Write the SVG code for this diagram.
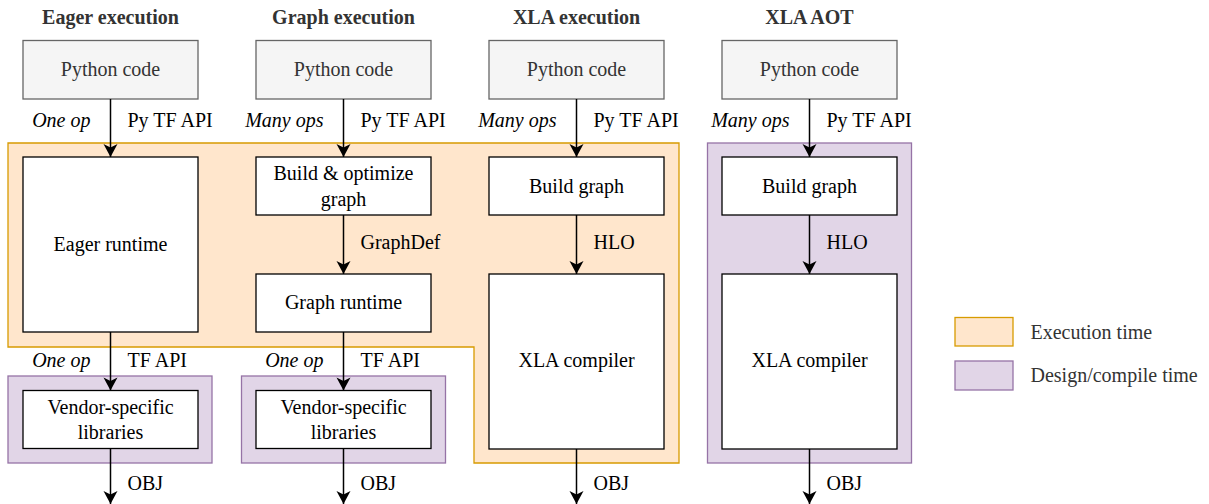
<svg xmlns="http://www.w3.org/2000/svg" width="1209" height="504" viewBox="0 0 1209 504" font-family="'Liberation Serif', 'DejaVu Serif', serif">
<style>
text{font-family:'Liberation Serif','Times New Roman','DejaVu Serif',serif;font-size:20px;fill:#000}
.t{font-weight:bold;fill:#333;text-anchor:middle}
.c{text-anchor:middle}
.g{fill:#333}
.i{font-style:italic;text-anchor:end}
.py{fill:#f5f5f5;stroke:#666;stroke-width:1.3}
.bx{fill:#fff;stroke:#000;stroke-width:1.3}
.ex{fill:#ffe6cc;stroke:#d79b00;stroke-width:1.3}
.ds{fill:#e1d5e7;stroke:#9673a6;stroke-width:1.3}
.ln{stroke:#000;stroke-width:1.5;fill:none;marker-end:url(#ah)}
</style>
<defs>
<marker id="ah" markerUnits="userSpaceOnUse" markerWidth="16" markerHeight="16" viewBox="-14 -8 16 16" refX="0" refY="0" orient="auto">
<path d="M0,0 L-13,-7 L-9.5,0 L-13,7 Z" fill="#000"/>
</marker>
</defs>
<g id="regions">
<path class="ex" d="M8,143 H679 V463 H474 V347 H8 Z"/>
<rect class="ds" x="707.5" y="143" width="204" height="320"/>
<rect class="ds" x="8" y="376" width="204" height="87"/>
<rect class="ds" x="241.5" y="376" width="204" height="87"/>
</g>
<g id="titles">
<text class="t" x="110.5" y="24">Eager execution</text>
<text class="t" x="343.5" y="24">Graph execution</text>
<text class="t" x="576.5" y="24">XLA execution</text>
<text class="t" x="809.5" y="24">XLA AOT</text>
</g>
<g id="py1"><rect class="py" x="23" y="40.5" width="175" height="58.5"/><text class="c g" x="110.5" y="76">Python code</text></g>
<g id="py2"><rect class="py" x="256" y="40.5" width="175" height="58.5"/><text class="c g" x="343.5" y="76">Python code</text></g>
<g id="py3"><rect class="py" x="489" y="40.5" width="175" height="58.5"/><text class="c g" x="576.5" y="76">Python code</text></g>
<g id="py4"><rect class="py" x="722" y="40.5" width="175" height="58.5"/><text class="c g" x="809.5" y="76">Python code</text></g>
<g id="eager-runtime"><rect class="bx" x="23" y="157" width="175" height="175"/><text class="c" x="110.5" y="251">Eager runtime</text></g>
<g id="build-opt"><rect class="bx" x="256" y="157" width="175" height="58"/><text class="c" x="343.5" y="180">Build &amp; optimize</text><text class="c" x="343.5" y="205.5">graph</text></g>
<g id="graph-runtime"><rect class="bx" x="256" y="274" width="175" height="58"/><text class="c" x="343.5" y="308.5">Graph runtime</text></g>
<g id="build-graph-1"><rect class="bx" x="489" y="157" width="175" height="58"/><text class="c" x="576.5" y="192.5">Build graph</text></g>
<g id="xla-compiler-1"><rect class="bx" x="489" y="274" width="175" height="175"/><text class="c" x="576.5" y="367">XLA compiler</text></g>
<g id="build-graph-2"><rect class="bx" x="722" y="157" width="175" height="58"/><text class="c" x="809.5" y="192.5">Build graph</text></g>
<g id="xla-compiler-2"><rect class="bx" x="722" y="274" width="175" height="175"/><text class="c" x="809.5" y="367">XLA compiler</text></g>
<g id="vendor-1"><rect class="bx" x="23" y="390.5" width="175" height="58"/><text class="c" x="110.5" y="413.5">Vendor-specific</text><text class="c" x="110.5" y="438.5">libraries</text></g>
<g id="vendor-2"><rect class="bx" x="256" y="390.5" width="175" height="58"/><text class="c" x="343.5" y="413.5">Vendor-specific</text><text class="c" x="343.5" y="438.5">libraries</text></g>
<g id="connectors">
<path class="ln" d="M110.5,99 V157"/>
<path class="ln" d="M343.5,99 V157"/>
<path class="ln" d="M576.5,99 V157"/>
<path class="ln" d="M809.5,99 V157"/>
<path class="ln" d="M343.5,215 V274"/>
<path class="ln" d="M576.5,215 V274"/>
<path class="ln" d="M809.5,215 V274"/>
<path class="ln" d="M110.5,332 V390.5"/>
<path class="ln" d="M343.5,332 V390.5"/>
<path class="ln" d="M110.5,448.5 V504"/>
<path class="ln" d="M343.5,448.5 V504"/>
<path class="ln" d="M576.5,449 V504"/>
<path class="ln" d="M809.5,449 V504"/>
</g>
<g id="labels">
<text class="i" x="90.5" y="126.5">One op</text>
<text x="127.5" y="126.5">Py TF API</text>
<text class="i" x="323.5" y="126.5">Many ops</text>
<text x="360.5" y="126.5">Py TF API</text>
<text class="i" x="556.5" y="126.5">Many ops</text>
<text x="593.5" y="126.5">Py TF API</text>
<text class="i" x="789.5" y="126.5">Many ops</text>
<text x="826.5" y="126.5">Py TF API</text>
<text x="360.5" y="249">GraphDef</text>
<text x="593.5" y="249">HLO</text>
<text x="826.5" y="249">HLO</text>
<text class="i" x="90.5" y="366.5">One op</text>
<text x="127.5" y="366.5">TF API</text>
<text class="i" x="323.5" y="366.5">One op</text>
<text x="360.5" y="366.5">TF API</text>
<text x="127.5" y="490">OBJ</text>
<text x="360.5" y="490">OBJ</text>
<text x="593.5" y="490">OBJ</text>
<text x="826.5" y="490">OBJ</text>
</g>
<g id="legend">
<rect class="ex" x="955" y="317.5" width="58" height="28.5"/>
<text class="g" x="1030.5" y="338.5">Execution time</text>
<rect class="ds" x="955" y="361" width="58" height="29"/>
<text class="g" x="1030.5" y="382">Design/compile time</text>
</g>
</svg>
